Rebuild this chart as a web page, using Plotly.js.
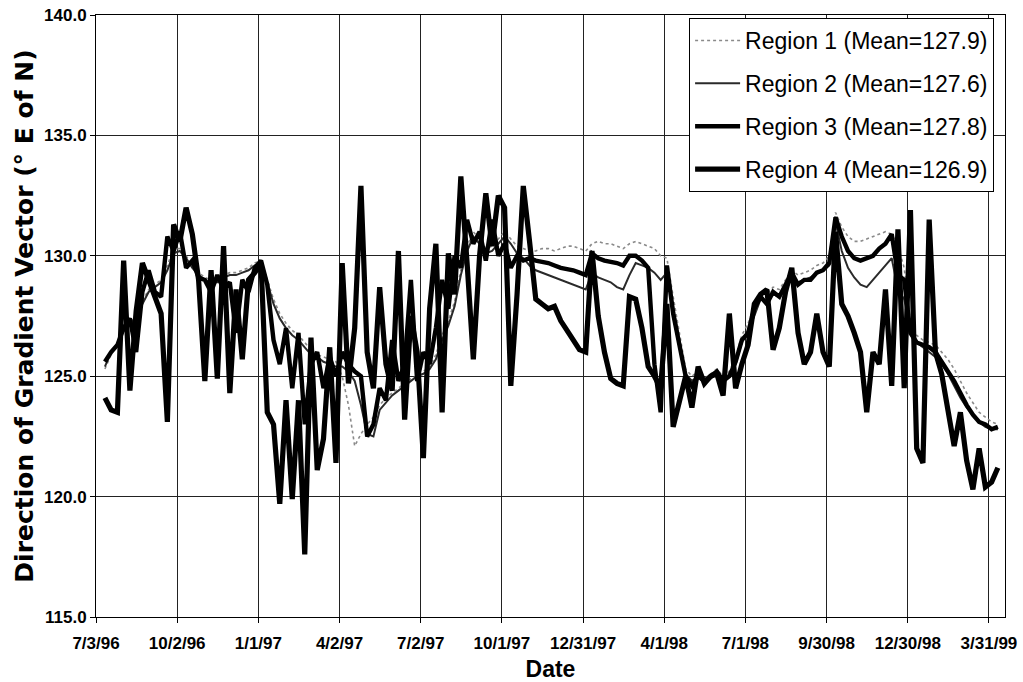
<!DOCTYPE html>
<html>
<head>
<meta charset="utf-8">
<script src="https://cdn.plot.ly/plotly-3.0.1.min.js"></script>
<style>html,body{margin:0;padding:0;background:#fff;}#chart{width:1023px;height:682px;}</style>
</head>
<body>
<div id="chart"></div>
<script>
const dates = [
'1996-07-13','1996-07-20','1996-07-27','1996-08-03','1996-08-10','1996-08-17','1996-08-24','1996-08-31','1996-09-07','1996-09-14',
'1996-09-21','1996-09-28','1996-10-05','1996-10-12','1996-10-19','1996-10-26','1996-11-02','1996-11-09','1996-11-16','1996-11-23',
'1996-11-30','1996-12-07','1996-12-14','1996-12-21','1996-12-28','1997-01-04','1997-01-11','1997-01-18','1997-01-25','1997-02-01',
'1997-02-08','1997-02-15','1997-02-22','1997-03-01','1997-03-08','1997-03-15','1997-03-22','1997-03-29','1997-04-05','1997-04-12',
'1997-04-19','1997-04-26','1997-05-03','1997-05-10','1997-05-17','1997-05-24','1997-05-31','1997-06-07','1997-06-14','1997-06-21',
'1997-06-28','1997-07-05','1997-07-12','1997-07-19','1997-07-26','1997-08-02','1997-08-09','1997-08-16','1997-08-23','1997-08-30',
'1997-09-06','1997-09-13','1997-09-20','1997-09-27','1997-10-04','1997-10-11','1997-10-18','1997-10-25','1997-11-01','1997-11-08',
'1997-11-15','1997-11-22','1997-11-29','1997-12-06','1997-12-13','1997-12-20','1997-12-27','1998-01-03','1998-01-10','1998-01-17',
'1998-01-24','1998-01-31','1998-02-07','1998-02-14','1998-02-21','1998-02-28','1998-03-07','1998-03-14','1998-03-21','1998-03-28',
'1998-04-04','1998-04-11','1998-04-18','1998-04-25','1998-05-02','1998-05-09','1998-05-16','1998-05-23','1998-05-30','1998-06-06',
'1998-06-13','1998-06-20','1998-06-27','1998-07-04','1998-07-11','1998-07-18','1998-07-25','1998-08-01','1998-08-08','1998-08-15',
'1998-08-22','1998-08-29','1998-09-05','1998-09-12','1998-09-19','1998-09-26','1998-10-03','1998-10-10','1998-10-17','1998-10-24',
'1998-10-31','1998-11-07','1998-11-14','1998-11-21','1998-11-28','1998-12-05','1998-12-12','1998-12-19','1998-12-26','1999-01-02',
'1999-01-09','1999-01-16','1999-01-23','1999-01-30','1999-02-06','1999-02-13','1999-02-20','1999-02-27','1999-03-06','1999-03-13',
'1999-03-20','1999-03-27','1999-04-03','1999-04-10'
];

const region1 = [
125.3,125.9,126.4,126.8,127.2,127.6,128.1,128.6,128.8,129.0,
129.6,130.3,130.3,130.0,129.6,129.3,129.1,129.0,129.0,129.2,
129.3,129.3,129.4,129.5,129.7,129.8,129.0,128.2,127.6,127.2,
126.9,126.7,126.4,126.1,125.9,125.8,125.7,125.6,125.0,123.8,
122.1,122.6,123.0,123.3,123.8,124.1,124.3,124.5,124.7,124.9,
125.0,125.2,125.4,125.9,126.7,127.3,128.1,129.4,130.4,131.0,
130.7,130.3,130.4,130.7,131.0,130.7,130.4,130.3,130.2,130.2,
130.3,130.3,130.2,130.3,130.4,130.4,130.3,130.2,130.5,130.6,
130.5,130.5,130.4,130.3,130.5,130.6,130.5,130.4,130.3,130.0,
129.9,128.3,126.8,125.3,125.0,125.2,124.9,125.1,125.3,125.0,
125.2,125.8,126.7,127.2,127.9,128.5,128.4,128.7,128.6,129.0,
129.4,129.2,129.3,129.4,129.6,129.7,130.0,131.8,131.2,130.8,
130.6,130.6,130.7,130.8,130.9,131.0,130.9,130.4,129.5,127.2,
126.7,126.5,126.4,126.3,126.0,125.7,125.3,124.8,124.3,123.9,
123.5,123.3,123.1,123.0
];

const region2 = [
125.4,126.0,126.3,126.9,127.1,127.5,128.0,128.5,128.7,128.9,
129.4,130.1,130.2,129.9,129.5,129.2,129.0,128.9,128.9,129.1,
129.2,129.2,129.3,129.4,129.6,129.7,128.9,128.0,127.4,127.0,
126.7,126.5,126.2,125.9,125.8,125.6,125.5,125.4,125.4,125.2,
124.8,123.8,122.6,122.5,123.6,123.9,124.2,124.4,124.6,124.8,
125.0,125.1,125.3,125.7,126.5,127.1,127.9,129.2,130.2,130.8,
130.5,130.1,130.2,130.5,130.8,130.5,130.1,129.9,129.6,129.4,
129.3,129.2,129.1,129.0,128.9,128.8,128.7,128.6,129.3,129.1,
129.0,128.9,128.7,128.6,129.2,129.7,129.6,129.5,129.3,129.0,
129.3,127.9,126.5,125.1,124.8,125.0,124.7,124.9,125.1,124.8,
125.0,125.5,126.4,126.9,127.5,128.2,128.1,128.4,128.3,128.7,
129.1,128.9,129.0,129.1,129.3,129.4,129.6,131.4,130.2,129.5,
129.1,128.8,128.7,129.0,129.3,129.6,129.9,128.6,128.2,126.9,
126.4,126.2,126.0,125.8,125.5,125.1,124.6,124.1,123.7,123.4,
123.1,122.9,122.8,122.8
];

const region3 = [
125.6,126.0,126.3,127.0,127.4,126.0,128.5,129.4,128.5,128.3,
130.8,130.2,131.0,129.5,129.8,129.1,129.0,128.5,129.2,128.6,
128.9,126.8,129.0,128.5,129.5,129.8,128.8,126.5,125.5,127.0,
124.5,126.8,123.0,125.5,126.0,124.5,125.8,125.0,126.0,125.5,
125.2,125.0,122.5,123.0,124.5,124.0,126.5,124.8,125.5,129.0,
124.8,126.0,125.5,127.0,129.0,127.8,130.0,129.5,131.5,130.5,
131.0,129.8,131.5,130.0,130.5,129.5,130.0,129.8,129.9,129.8,
129.75,129.7,129.6,129.5,129.45,129.4,129.3,129.2,130.1,129.9,
129.8,129.75,129.7,129.6,130.0,130.0,129.8,129.5,125.5,123.5,
129.6,127.6,126.2,125.0,124.6,125.0,124.8,125.0,125.2,124.8,
125.0,125.6,126.5,126.8,127.8,128.3,128.0,128.5,128.3,128.8,
129.3,128.8,129.0,129.0,129.3,129.4,129.7,131.6,130.8,130.2,
129.9,129.8,129.9,130.0,130.3,130.5,130.9,129.2,129.0,126.8,
126.4,126.3,126.2,126.0,125.6,125.2,124.8,124.3,123.8,123.4,
123.1,123.0,122.8,122.9
];

const region4 = [
124.1,123.6,123.5,129.8,124.4,127.7,129.7,129.0,128.4,127.6,
123.1,131.3,130.6,132.0,130.9,129.0,124.8,129.4,124.9,130.4,
124.3,128.6,125.7,129.0,129.3,129.7,123.5,123.0,119.7,124.0,
119.9,124.0,117.6,126.6,121.1,122.4,126.2,121.4,129.7,124.7,
127.0,132.9,126.0,124.5,128.7,125.5,124.4,130.2,123.2,127.5,
126.0,121.6,127.8,130.5,123.5,130.1,128.4,133.3,129.7,125.7,
130.0,132.6,130.4,132.5,132.0,124.6,128.4,132.9,130.6,128.2,
128.0,127.8,127.9,127.3,126.9,126.5,126.1,126.0,130.2,127.5,
126.0,124.9,124.7,124.6,128.3,128.2,127.0,125.4,125.0,124.5,
128.0,122.9,124.0,125.0,123.7,125.4,124.7,125.0,125.1,124.2,
127.6,124.5,125.5,126.3,128.0,128.4,128.6,126.1,127.0,128.5,
129.5,126.8,125.5,126.0,127.6,126.0,125.4,131.0,128.0,127.5,
126.8,126.0,123.5,126.0,125.5,128.6,124.6,131.1,124.5,131.9,
122.0,121.4,131.5,126.0,125.1,123.7,122.1,123.5,121.5,120.3,
122.0,120.4,120.6,121.2
];

const seriesNames = ['Region 1 (Mean=127.9)','Region 2 (Mean=127.6)','Region 3 (Mean=127.8)','Region 4 (Mean=126.9)'];
const tickDates = ['1996-07-03','1996-10-02','1997-01-01','1997-04-02','1997-07-02','1997-10-01','1997-12-31','1998-04-01','1998-07-01','1998-09-30','1998-12-30','1999-03-31'];
const tickLabels = ['7/3/96','10/2/96','1/1/97','4/2/97','7/2/97','10/1/97','12/31/97','4/1/98','7/1/98','9/30/98','12/30/98','3/31/99'];
const yTicks = [115,120,125,130,135,140];

const styles = [
  {color:'#8a8a8a', width:1.6, dash:'dot'},
  {color:'#2a2a2a', width:2.0, dash:'solid'},
  {color:'#000000', width:4.4, dash:'solid'},
  {color:'#000000', width:5.2, dash:'solid'}
];
const values = [region1, region2, region3, region4];

const traces = values.map((v,i)=>({
  x: dates, y: v, type:'scatter', mode:'lines', name: seriesNames[i],
  legendgroup:'g'+i,
  line: Object.assign({shape:'linear'}, styles[i])
}));

const tickFont = {family:'Liberation Sans, Arial, sans-serif', size:17, color:'#000', weight:'bold'};
const layout = {
  width:1023, height:682,
  margin:{l:96, r:18, t:15, b:65},
  paper_bgcolor:'#fff', plot_bgcolor:'#fff',
  showlegend:true,
  legend:{x:0.988, xanchor:'right', y:0.995, yanchor:'top',
    bgcolor:'#fff', bordercolor:'#000', borderwidth:1,
    font:{family:'Liberation Sans, Arial, sans-serif', size:23, color:'#000'},
    tracegroupgap:10, itemwidth:45},
  xaxis:{
    type:'date', range:['1996-07-03','1999-04-18'],
    tickmode:'array', tickvals:tickDates, ticktext:tickLabels,
    tickfont:tickFont, ticks:'outside', ticklen:5, tickcolor:'#000', ticklabelstandoff:6,
    showgrid:true, gridcolor:'#222', gridwidth:1,
    showline:true, linecolor:'#000', linewidth:1, mirror:true, zeroline:false,
    title:{text:'Date', font:{family:'Liberation Sans, Arial, sans-serif', size:23, color:'#000', weight:'bold'}, standoff:8}
  },
  yaxis:{
    range:[115,140], tickmode:'array', tickvals:yTicks, ticktext:yTicks.map(v=>v.toFixed(1)),
    tickfont:tickFont, ticks:'outside', ticklen:5, tickcolor:'#000',
    showgrid:true, gridcolor:'#222', gridwidth:1,
    showline:true, linecolor:'#000', linewidth:1, mirror:true, zeroline:false,
    title:{text:'Direction of Gradient Vector (° E of N)', font:{family:'DejaVu Sans, Liberation Sans, sans-serif', size:25, color:'#000', weight:'bold'}, standoff:3}
  }
};

Plotly.newPlot('chart', traces, layout, {displayModeBar:false, staticPlot:true});
</script>
</body>
</html>
